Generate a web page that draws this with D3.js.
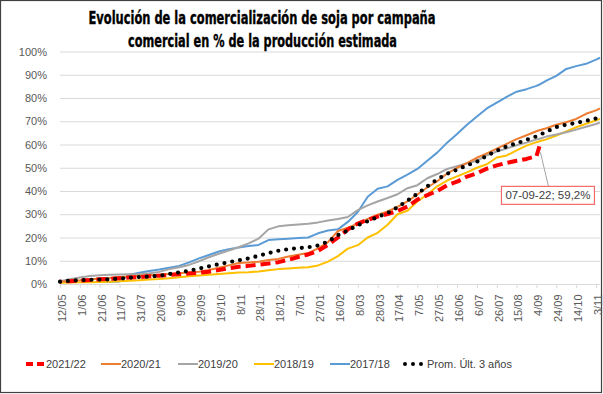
<!DOCTYPE html>
<html>
<head>
<meta charset="utf-8">
<script src="https://cdn.jsdelivr.net/npm/d3@7"></script>
<style>
	body { margin: 0; background: #fff; }
	text { font-family: "Liberation Sans", Arial, sans-serif; }
</style>
</head>
<body>
<div id="graph"></div>
<script>
/*
=====================================================
=========	DATOS	=========
=====================================================
*/

// fechas de campaña (día/mes), eje común a todas las series
var fechas = ["2021-05-12","2021-05-22","2021-06-01","2021-06-11","2021-06-21","2021-07-01","2021-07-11","2021-07-21","2021-07-31","2021-08-10",
	"2021-08-20","2021-08-30","2021-09-09","2021-09-19","2021-09-29","2021-10-09","2021-10-19","2021-10-29","2021-11-08","2021-11-18",
	"2021-11-28","2021-12-08","2021-12-18","2021-12-28","2022-01-07","2022-01-17","2022-01-27","2022-02-06","2022-02-16","2022-02-26",
	"2022-03-08","2022-03-18","2022-03-28","2022-04-07","2022-04-17","2022-04-27","2022-05-07","2022-05-17","2022-05-27","2022-06-06",
	"2022-06-16","2022-06-26","2022-07-06","2022-07-16","2022-07-26","2022-08-05","2022-08-15","2022-08-25","2022-09-04","2022-09-07",
	"2022-09-14","2022-09-24","2022-10-04","2022-10-14","2022-10-24","2022-11-03","2022-11-07"];

// % comercializado de la producción estimada
var c2122 = [1.0,1.2,1.5,1.7,2.0,2.2,2.5,2.8,3.0,3.3, 3.6,3.9,4.2,4.5,4.8,5.3,6.0,6.8,7.4,7.8,
	8.3,8.8,9.4,10.4,11.6,12.7,14.3,16.8,20.0,23.5, 26.0,27.6,29.0,30.1,31.4,33.3,36.3,38.2,40.0,42.5,
	44.0,46.2,47.6,49.6,51.0,52.1,53.0,53.8,55.0,59.2, null,null,null,null,null,null,null];
var c2021 = [1.0,1.3,1.6,2.0,2.3,2.6,3.0,3.2,3.5,3.8, 4.0,4.3,4.6,5.0,5.3,6.0,7.0,8.0,9.0,9.3,
	9.6,10.3,10.8,11.8,12.6,13.3,15.3,18.0,22.8,24.2, 26.0,28.0,29.8,31.2,33.2,35.5,38.5,41.5,44.2,47.5,
	50.0,52.0,54.3,56.2,58.2,60.3,62.3,64.0,65.7,66.1, 67.0,68.5,69.6,71.0,73.2,74.7,75.5];
var c1920 = [1.2,2.0,2.8,3.4,3.8,4.0,4.1,4.2,4.3,4.6, 5.2,6.4,7.2,8.2,9.8,11.5,13.0,14.4,15.8,17.5,
	19.5,23.5,24.8,25.3,25.6,25.9,26.5,27.3,28.0,28.8, 31.8,33.8,35.5,37.0,38.6,41.2,42.5,45.5,47.3,49.5,
	50.7,51.9,53.0,55.4,57.0,58.3,59.7,60.8,62.2,62.5, 63.4,64.3,65.3,66.4,67.6,68.8,69.4];
var c1819 = [0.5,0.6,0.7,0.8,0.9,1.0,1.2,1.4,1.6,1.9, 2.1,2.5,2.9,3.3,3.7,4.0,4.3,4.6,4.9,5.1,
	5.4,5.9,6.4,6.7,7.0,7.2,8.0,9.6,12.0,15.2, 16.7,20.0,22.0,25.5,30.0,31.5,35.5,38.5,42.0,44.5,
	46.3,48.0,50.0,51.5,54.4,55.3,57.5,59.5,61.0,61.4, 62.2,63.8,65.6,67.4,68.9,70.4,71.0];
var c1718 = [null,null,null,null,1.0,1.0,1.1,4.0,4.8,5.6, 6.2,7.0,7.8,9.3,11.0,12.5,14.0,15.0,15.7,16.3,
	16.8,18.9,19.2,19.5,19.8,20.0,21.8,23.0,23.5,26.7, 31.0,37.5,41.0,42.0,44.8,47.0,49.5,53.0,56.5,60.8,
	64.5,68.5,72.0,75.5,78.0,80.5,82.7,83.8,85.2,85.8, 87.5,89.5,92.5,93.7,94.7,96.5,97.3];
var promedio = [1.0,1.4,1.6,1.8,1.9,2.0,2.3,2.7,3.0,3.2, 3.5,4.3,5.0,5.7,6.6,7.6,8.5,9.4,10.2,11.0,
	12.1,13.3,14.3,15.0,15.4,15.8,16.6,18.2,21.0,23.0, 25.3,27.0,28.8,30.5,33.0,35.8,38.8,42.0,45.0,47.4,
	49.2,51.0,52.6,55.2,57.3,59.2,60.5,62.0,63.5,64.1, 65.5,67.5,68.5,69.3,70.2,71.2,71.6];

var campanias = ["2021/22", "2020/21", "2019/20", "2018/19", "2017/18", "Prom. Últ. 3 años"];

// marcas del eje X, cada 20 días
var fechasEje = ["2021-05-12","2021-06-01","2021-06-21","2021-07-11","2021-07-31","2021-08-20","2021-09-09","2021-09-29",
	"2021-10-19","2021-11-08","2021-11-28","2021-12-18","2022-01-07","2022-01-27","2022-02-16","2022-03-08","2022-03-28",
	"2022-04-17","2022-05-07","2022-05-27","2022-06-16","2022-07-06","2022-07-26","2022-08-15","2022-09-04","2022-09-24",
	"2022-10-14","2022-11-03"];
var ticksY = [0, 10, 20, 30, 40, 50, 60, 70, 80, 90, 100];

var etiqueta = "07-09-22; 59,2%";

/*
=====================================================
=========	SVG Y ESCALAS	=========
=====================================================
*/

var SVGwidth = 603,
	SVGheight = 394,
	margin = {top: 51.5, right: 3, bottom: 110, left: 60},
	width = SVGwidth - margin.left - margin.right,
	height = 284 - margin.top;

var parse = d3.timeParse("%Y-%m-%d");
var fmt = d3.timeFormat("%-d/%m");

var svg = d3.select("div#graph")
	.append("svg")
	.attr("width", SVGwidth)
	.attr("height", SVGheight);

svg.append("rect")
	.attr("x", 0.5).attr("y", 0.5)
	.attr("width", 601).attr("height", 392)
	.attr("fill", "#fff")
	.attr("stroke", "#404040")
	.attr("stroke-width", 1.2);

var g = svg.append("g").attr("transform", "translate(" + margin.left + "," + margin.top + ")");

var x = d3.scaleTime()
	.domain([parse(fechas[0]), parse(fechas[fechas.length - 1])])
	.range([0, 540]);

var y = d3.scaleLinear()
	.domain([0, 100])
	.range([height, 0]);

// titulo
var titulo = svg.append("g")
	.attr("font-weight", "bold")
	.attr("fill", "#000")
	.attr("stroke", "#000")
	.attr("stroke-width", 0.35)
	.attr("text-anchor", "middle");
titulo.append("text")
	.attr("x", 262).attr("y", 24)
	.style("font-family", "'Liberation Sans Narrow', 'DejaVu Sans Condensed', sans-serif")
	.style("font-size", "17.5px")
	.attr("textLength", 347).attr("lengthAdjust", "spacingAndGlyphs")
	.text("Evolución de la comercialización de soja por campaña");
titulo.append("text")
	.attr("x", 262.5).attr("y", 47)
	.style("font-family", "'Liberation Sans Narrow', 'DejaVu Sans Condensed', sans-serif")
	.style("font-size", "17.5px")
	.attr("textLength", 269).attr("lengthAdjust", "spacingAndGlyphs")
	.text("comercial en % de la producción estimada");

// grilla y eje Y
var yAxis = d3.axisLeft(y)
	.tickValues(ticksY)
	.tickSize(-540)
	.tickPadding(13)
	.tickFormat(function(d) { return d + "%"; });

g.append("g")
	.call(yAxis)
	.call(function(a) {
		a.select(".domain").remove();
		a.selectAll("line").attr("stroke", "#d9d9d9");
		a.selectAll("text").attr("fill", "#595959").style("font-size", "11px");
	});

// eje X
var xAxis = d3.axisBottom(x)
	.tickValues(fechasEje.map(parse))
	.tickSize(4)
	.tickFormat(fmt);

g.append("g")
	.attr("transform", "translate(0," + height + ")")
	.call(xAxis)
	.call(function(a) {
		a.select(".domain").attr("stroke", "#d9d9d9").attr("d", "M0,0.5H540");
		a.selectAll("line").attr("stroke", "#d9d9d9");
		a.selectAll("text")
			.attr("fill", "#595959")
			.style("font-size", "11px")
			.attr("text-anchor", "end")
			.attr("y", 0)
			.attr("dy", "0.35em")
			.attr("transform", "translate(1.5,10.5) rotate(-90)");
	});

/*
=====================================================
=========	SERIES	=========
=====================================================
*/

var series = [
	{vals: c1718, color: "#5B9BD5", w: 2, dash: null, cap: "butt"},
	{vals: c1819, color: "#FFC000", w: 2, dash: null, cap: "butt"},
	{vals: c1920, color: "#A5A5A5", w: 2, dash: null, cap: "butt"},
	{vals: c2021, color: "#ED7D31", w: 2, dash: null, cap: "butt"},
	{vals: c2122, color: "#FF0000", w: 4, dash: "10,5", cap: "butt"},
	{vals: promedio, color: "#000", w: 4.2, dash: "0,7.9", cap: "round"}
];

var line = d3.line()
	.defined(function(d) { return d.v != null; })
	.x(function(d) { return x(d.f); })
	.y(function(d) { return y(d.v); });

series.forEach(function(s) {
	var data = fechas.map(function(f, i) { return {f: parse(f), v: s.vals[i]}; });
	var p = g.append("path")
		.datum(data)
		.attr("fill", "none")
		.attr("stroke", s.color)
		.attr("stroke-width", s.w)
		.attr("stroke-linejoin", "round")
		.attr("stroke-linecap", s.cap)
		.attr("stroke-dasharray", s.dash)
		.attr("d", line);
	// que la serie 2021/22 termine con un trazo visible
	if (s.vals === c2122) {
		var L = p.node().getTotalLength();
		p.attr("stroke-dashoffset", -(L % 15) + 10);
	}
});

// etiqueta del último dato 2021/22
var iUlt = c2122.indexOf(59.2);
var px = x(parse(fechas[iUlt])), py = y(c2122[iUlt]);
g.append("line")
	.attr("x1", px + 1).attr("y1", py + 6)
	.attr("x2", px + 9).attr("y2", py + 40)
	.attr("stroke", "#a5a5a5").attr("stroke-width", 1);
g.append("rect")
	.attr("x", px - 38).attr("y", py + 40)
	.attr("width", 93).attr("height", 18)
	.attr("fill", "#fff")
	.attr("stroke", "#F26A6A").attr("stroke-width", 1.2);
g.append("text")
	.attr("x", px + 8.5).attr("y", py + 53)
	.attr("text-anchor", "middle")
	.attr("fill", "#404040")
	.style("font-size", "11.5px")
	.text(etiqueta);

/*
=====================================================
=========	LEYENDA	=========
=====================================================
*/

var legX = [26, 101, 178, 254, 330, 405];
var legend = svg.append("g").attr("transform", "translate(0,364)");
var orden = [4, 3, 2, 1, 0, 5];

campanias.forEach(function(c, i) {
	var s = series[orden[i]];
	var it = legend.append("g").attr("transform", "translate(" + legX[i] + ",0)");
	if (i == 0) {
		it.append("line").attr("x1", 0).attr("x2", 18)
			.attr("stroke", s.color).attr("stroke-width", 4).attr("stroke-dasharray", "7,4");
	} else if (i == 5) {
		it.append("line").attr("x1", 0).attr("x2", 17)
			.attr("stroke", s.color).attr("stroke-width", 4)
			.attr("stroke-linecap", "round").attr("stroke-dasharray", "0,8");
	} else {
		it.append("line").attr("x1", 0).attr("x2", 20)
			.attr("stroke", s.color).attr("stroke-width", 2);
	}
	it.append("text")
		.attr("x", i == 5 ? 22 : 20)
		.attr("y", 4)
		.attr("fill", "#404040")
		.style("font-size", "11px")
		.text(c);
});
</script>
</body>
</html>
